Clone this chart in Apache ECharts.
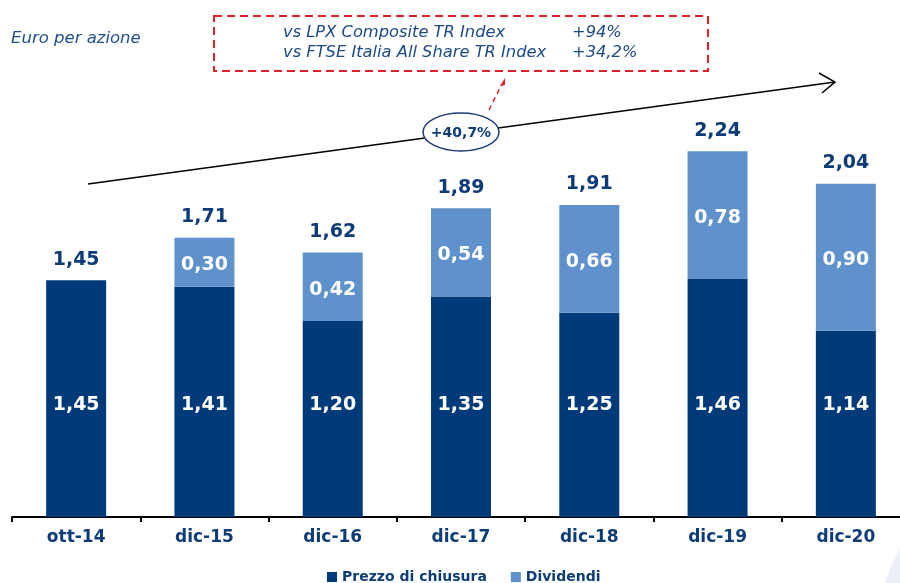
<!DOCTYPE html>
<html>
<head>
<meta charset="utf-8">
<script src="https://cdn.jsdelivr.net/npm/echarts@6/dist/echarts.min.js"></script>
<style>
  html, body { margin: 0; padding: 0; background: #fff; }
  #chart { width: 900px; height: 583px; }
</style>
</head>
<body>
<div id="chart"></div>
<script>
// dati (euro per azione)
var categories = ['ott-14', 'dic-15', 'dic-16', 'dic-17', 'dic-18', 'dic-19', 'dic-20'];
var prezzo = [1.45, 1.41, 1.20, 1.35, 1.25, 1.46, 1.14];
var dividendi = [null, 0.30, 0.42, 0.54, 0.66, 0.78, 0.90];
var totali = [1.45, 1.71, 1.62, 1.89, 1.91, 2.24, 2.04];

var navy = '#003a78';
var azzurro = '#5f92cc';
var testo = '#0d3c78';
var font = '"DejaVu Sans", Verdana, sans-serif';

function virgola(v) {
  return v.toFixed(2).replace('.', ',');
}

var chart = echarts.init(document.getElementById('chart'));

var option = {
  animation: false,
  textStyle: { fontFamily: font },
  grid: { left: 12, width: 898, top: 27, bottom: 66, outerBoundsMode: 'none' },
  legend: {
    data: ['Prezzo di chiusura', 'Dividendi'],
    left: 322,
    top: 565,
    icon: 'rect',
    itemWidth: 10,
    itemHeight: 10,
    itemGap: 24,
    textStyle: { color: testo, fontWeight: 'bold', fontSize: 14, fontFamily: font }
  },
  xAxis: {
    type: 'category',
    data: categories,
    axisLine: { lineStyle: { color: '#000', width: 2 } },
    axisTick: { show: true, length: 5, lineStyle: { color: '#000', width: 2 } },
    axisLabel: { color: testo, fontWeight: 'bold', fontSize: 17, margin: 12, fontFamily: font }
  },
  yAxis: {
    type: 'value',
    min: 0,
    max: 3,
    show: false,
    splitLine: { show: false }
  },
  series: [
    {
      name: 'Prezzo di chiusura',
      type: 'bar',
      stack: 'tot',
      barWidth: 60,
      barGap: '-100%',
      itemStyle: { color: navy },
      label: {
        show: true,
        position: 'insideBottom',
        distance: 102,
        color: '#fff',
        fontWeight: 'bold',
        fontSize: 19,
        fontFamily: font,
        formatter: function (p) { return virgola(p.value); }
      },
      data: prezzo
    },
    {
      name: 'Dividendi',
      type: 'bar',
      stack: 'tot',
      barWidth: 60,
      itemStyle: { color: azzurro },
      label: {
        show: true,
        position: 'inside',
        offset: [0, 3],
        color: '#fff',
        fontWeight: 'bold',
        fontSize: 19,
        fontFamily: font,
        formatter: function (p) { return p.value ? virgola(p.value) : ''; }
      },
      data: dividendi
    },
    {
      name: 'Totale',
      type: 'bar',
      barWidth: 60,
      barGap: '-100%',
      itemStyle: { color: 'rgba(0,0,0,0)' },
      label: {
        show: true,
        position: 'top',
        distance: 11,
        color: testo,
        fontWeight: 'bold',
        fontSize: 19,
        fontFamily: font,
        formatter: function (p) { return virgola(p.value); }
      },
      z: 1,
      data: totali
    }
  ],
  graphic: [
    {
      type: 'circle',
      shape: { cx: 1168, cy: 682, r: 300 },
      style: { fill: '#eceff7' },
      z: -10,
      silent: true
    },
    {
      type: 'text',
      left: 11,
      top: 30,
      style: { text: 'Euro per azione', fill: '#1f4f8f', font: 'italic 16.5px ' + font }
    },
    {
      type: 'rect',
      shape: { x: 214, y: 16, width: 494, height: 55 },
      style: { fill: 'none', stroke: '#e3202a', lineWidth: 2, lineDash: [8, 5] }
    },
    {
      type: 'text',
      x: 283, y: 33,
      style: { text: 'vs LPX Composite TR Index', fill: '#1b4a86', font: 'italic 16.3px ' + font, verticalAlign: 'middle' }
    },
    {
      type: 'text',
      x: 572, y: 33,
      style: { text: '+94%', fill: '#1b4a86', font: 'italic 16.3px ' + font, verticalAlign: 'middle' }
    },
    {
      type: 'text',
      x: 283, y: 53,
      style: { text: 'vs FTSE Italia All Share TR Index', fill: '#1b4a86', font: 'italic 16.3px ' + font, verticalAlign: 'middle' }
    },
    {
      type: 'text',
      x: 572, y: 53,
      style: { text: '+34,2%', fill: '#1b4a86', font: 'italic 16.3px ' + font, verticalAlign: 'middle' }
    },
    // freccia di tendenza
    {
      type: 'line',
      shape: { x1: 88, y1: 184, x2: 835, y2: 82 },
      style: { stroke: '#000', lineWidth: 1.5 },
      z: 10
    },
    {
      type: 'polyline',
      shape: { points: [[819, 73], [835, 82], [822, 93]] },
      style: { stroke: '#000', lineWidth: 1.5, fill: null },
      z: 10
    },
    // tratteggio rosso verso il box
    {
      type: 'line',
      shape: { x1: 489, y1: 110, x2: 502, y2: 84 },
      style: { stroke: '#e3202a', lineWidth: 1.5, lineDash: [5, 4] },
      z: 10
    },
    {
      type: 'polygon',
      shape: { points: [[505, 78], [500, 86], [505, 85]] },
      style: { fill: '#e3202a' },
      z: 10
    },
    {
      type: 'ellipse',
      shape: { cx: 461, cy: 132, rx: 38, ry: 19 },
      style: { fill: '#fff', stroke: '#1f3a7a', lineWidth: 1.5 },
      z: 11
    },
    {
      type: 'text',
      x: 461, y: 133,
      style: { text: '+40,7%', fill: testo, font: 'bold 14px ' + font, align: 'center', verticalAlign: 'middle' },
      z: 12
    }
  ]
};

chart.setOption(option);
</script>
</body>
</html>
